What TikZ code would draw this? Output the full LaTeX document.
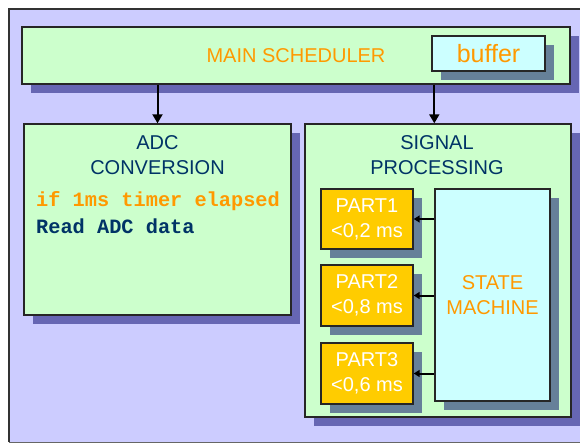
\documentclass[tikz,border=0pt]{standalone}
\usepackage{fontspec}
\setmainfont{Liberation Sans}
\setmonofont{Liberation Mono}
\usetikzlibrary{arrows.meta,positioning,shadows}
\definecolor{schlav}{RGB}{204,204,255}
\definecolor{schgreen}{RGB}{204,255,204}
\definecolor{schcyan}{RGB}{204,255,255}
\definecolor{schgold}{RGB}{255,204,0}
\definecolor{schorange}{RGB}{255,153,0}
\definecolor{schnavy}{RGB}{0,51,102}
\definecolor{schshadowout}{RGB}{102,102,179}
\definecolor{schshadowin}{RGB}{102,128,153}
\tikzset{
  bigfont/.style={font=\fontsize{20}{25}\selectfont},
  block/.style={draw=black!85, line width=1.4pt, inner sep=0pt,
    general shadow={fill=schshadowout, shadow xshift=9pt, shadow yshift=-9pt}},
  innerblock/.style={draw=black!85, line width=1.4pt, inner sep=0pt,
    general shadow={fill=schshadowin, shadow xshift=9pt, shadow yshift=-9pt}},
  codeline/.style={font=\fontsize{20.3}{25}\selectfont\ttfamily\bfseries, inner sep=0pt, anchor=west},
  flow/.style={line width=2pt, -{Triangle[length=9pt,width=10pt]}},
  call/.style={line width=2pt, -{Triangle[length=6pt,width=7pt]}}
}

\begin{document}
\begin{tikzpicture}[x=1pt, y=-1pt]
\useasboundingbox (0,0) rectangle (580,443);
\clip (0,0) rectangle (580,443);
% background
\fill[schlav] (9,9) rectangle (600,442);
\draw[black!60, line width=0.8pt] (9,442) -- (600,442);
\draw[black!80, line width=1.4pt] (9,442) -- (9,9) -- (600,9);
% main scheduler
\node[block, fill=schgreen, minimum width=548pt, minimum height=57pt, bigfont, text=schorange] (main) at (296,55.5) {MAIN SCHEDULER};
\node[innerblock, fill=schcyan, minimum width=113pt, minimum height=35pt, font=\fontsize{25}{30}\selectfont, text=schorange] (buffer) at (488.5,53.5) {buffer};
% ADC conversion
\node[block, fill=schgreen, minimum width=267pt, minimum height=191pt] (adc) at (157.5,219.5) {};
\node[bigfont, text=schnavy, align=center] (adctitle) at (157.5,155) {ADC\\CONVERSION};
\node[codeline, text=schorange] (adcif) at (36,201) {if 1ms timer elapsed};
\node[codeline, text=schnavy] (adcread) at (36,226) {Read ADC data};
% signal processing
\node[block, fill=schgreen, minimum width=266pt, minimum height=293pt] (sig) at (438,270.5) {};
\node[bigfont, text=schnavy, align=center] (sigtitle) at (437,155) {SIGNAL\\PROCESSING};
\node[innerblock, fill=schcyan, minimum width=115pt, minimum height=212pt, bigfont, text=schorange, align=center] (state) at (492.5,295) {STATE\\MACHINE};
\node[innerblock, fill=schgold, minimum width=92pt, minimum height=60pt, bigfont, text=white, align=center] (part1) at (367,219) {PART1\\<0,2 ms};
\node[innerblock, fill=schgold, minimum width=92pt, minimum height=61pt, bigfont, text=white, align=center] (part2) at (367,295.5) {PART2\\<0,8 ms};
\node[innerblock, fill=schgold, minimum width=92pt, minimum height=61pt, bigfont, text=white, align=center] (part3) at (367,373.5) {PART3\\<0,6 ms};
% connectors
\draw[flow] (main.south -| adctitle.north) -- (adc.north -| adctitle.north);
\draw[flow] (main.south -| state.west) -- (sig.north -| state.west);
\draw[call] (state.west |- part1.east) -- (part1.east);
\draw[call] (state.west |- part2.east) -- (part2.east);
\draw[call] (state.west |- part3.east) -- (part3.east);
\end{tikzpicture}
\end{document}
